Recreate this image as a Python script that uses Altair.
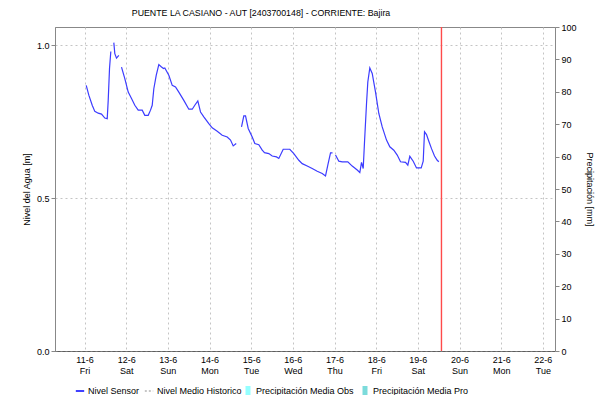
import altair as alt
import pandas as pd
from datetime import datetime, timedelta

TITLE = "PUENTE LA CASIANO - AUT [2403700148] - CORRIENTE: Bajira"

# Hours after 11-6 00:00 and water level (m), per continuous segment of the sensor line
seg1_h = [0.98, 2.48, 4.44, 5.93, 7.89, 9.79, 11.69, 13.08, 13.65, 14.4, 15.15]
seg1_v = [0.869, 0.837, 0.804, 0.784, 0.778, 0.775, 0.762, 0.760, 0.820, 0.924, 0.980]

seg2_h = [16.88, 17.45, 18.43, 19.76]
seg2_v = [1.009, 0.973, 0.958, 0.967]

seg3_h = [21.31, 23.21, 25.17, 27.07, 28.97, 30.93, 33.24, 34.73, 36.69, 38.02,
          39.0, 39.92, 41.3, 42.8, 44.35, 45.5, 46.25, 48.56, 50.52, 52.42,
          54.32, 57.2, 60.08, 62.04, 63.53, 65.26, 66.82, 68.72, 71.6, 73.56,
          76.44, 79.32, 82.2, 84.1, 85.65, 87.38]
seg3_v = [0.929, 0.891, 0.847, 0.826, 0.804, 0.788, 0.788, 0.771, 0.771, 0.788,
          0.804, 0.858, 0.902, 0.937, 0.929, 0.924, 0.926, 0.902, 0.869, 0.864,
          0.847, 0.820, 0.791, 0.791, 0.804, 0.818, 0.782, 0.766, 0.744, 0.730,
          0.719, 0.706, 0.700, 0.690, 0.671, 0.679]

seg4_h = [90.43, 91.76, 92.74, 94.29, 96.6, 98.1, 100.4, 102.36, 103.68, 106.16,
          108.12, 110.6, 111.92, 114.45, 118.25, 120.56, 123.44, 125.4, 128.28, 131.16,
          134.04, 136.92, 138.82, 140.14, 141.7, 142.85]
seg4_v = [0.733, 0.769, 0.769, 0.728, 0.700, 0.679, 0.675, 0.657, 0.649, 0.646,
          0.638, 0.635, 0.630, 0.660, 0.660, 0.646, 0.624, 0.613, 0.605, 0.597,
          0.588, 0.581, 0.573, 0.608, 0.648, 0.648]

seg5_h = [144.58, 146.48, 148.44, 151.66, 154.2, 157.08, 158.57, 159.55, 160.53, 161.28,
          162.43, 163.18, 164.33, 165.72, 167.62, 169.52, 171.48, 173.95, 175.85, 178.16,
          180.12, 182.02, 184.9, 186.22, 187.37, 189.33, 191.23, 193.94, 195.09, 195.84,
          196.99, 198.32, 199.87, 201.6, 203.16, 204.08]
seg5_v = [0.641, 0.621, 0.619, 0.619, 0.605, 0.592, 0.584, 0.617, 0.597, 0.684,
          0.809, 0.880, 0.926, 0.908, 0.847, 0.777, 0.733, 0.690, 0.668, 0.657,
          0.641, 0.619, 0.617, 0.608, 0.637, 0.621, 0.599, 0.599, 0.621, 0.717,
          0.708, 0.686, 0.662, 0.638, 0.624, 0.619]

NOW = "2021-06-19T13:36:00"
LEGEND_T = "2021-06-15T00:00:00"

line_names = ["Nivel Sensor", "Nivel Medio Historico"]
line_colors = ["#0000ff", "#b4b4b4"]
line_dashes = [[1, 0], [2, 2]]
bar_names = ["Precipitación Media Obs", "Precipitación Media Pro"]
bar_colors = ["#66ffff", "#44cccc"]
RECT = "M-0.5,-1L0.5,-1L0.5,1L-0.5,1Z"

FONT = "Liberation Sans"

base = datetime(2021, 6, 11)
rows = []
for sid, (hs, vs) in enumerate([(seg1_h, seg1_v), (seg2_h, seg2_v), (seg3_h, seg3_v),
                                (seg4_h, seg4_v), (seg5_h, seg5_v)]):
    for h, v in zip(hs, vs):
        rows.append({"t": (base + timedelta(hours=h)).strftime("%Y-%m-%dT%H:%M:%S"),
                     "v": v, "seg": sid})
df = pd.DataFrame(rows)

x_dom = [alt.DateTime(year=2021, month=6, date=10, hours=7),
         alt.DateTime(year=2021, month=6, date=22, hours=7)]
x_ticks = [alt.DateTime(year=2021, month=6, date=d) for d in range(11, 23)]

x_axis = alt.Axis(values=x_ticks, title=None, ticks=False, grid=True,
                  gridDash=[2, 3], gridColor="#c4c4c4",
                  domainDash=[1, 1], domainColor="#333333",
                  labelExpr="[timeFormat(datum.value, '%-d-%-m'), timeFormat(datum.value, '%a')]",
                  labelPadding=4, labelLineHeight=11, labelFontSize=9)

line = alt.Chart(df).mark_line(color="#3c3cff", strokeWidth=1.2).encode(
    x=alt.X("t:T", scale=alt.Scale(domain=x_dom), axis=x_axis),
    y=alt.Y("v:Q", scale=alt.Scale(domain=[0, 1.06], nice=False, zero=False),
            axis=alt.Axis(orient="left", values=[0, 0.5, 1.0], format=".1f",
                          title="Nivel del Agua [m]", grid=True, gridDash=[2, 3],
                          gridColor="#c4c4c4", domainColor="#888888",
                          tickColor="#888888", tickSize=4, labelPadding=2,
                          titlePadding=5)),
    detail="seg:N",
)

rule = alt.Chart(pd.DataFrame({"t": [NOW]})).mark_rule(strokeWidth=1.4, color="#ff4a4a").encode(
    x="t:T",
)

# legend for the line series (no visible marks: rows filtered out)
leg_lines = alt.Chart(pd.DataFrame({"serie": line_names, "t": [LEGEND_T] * 2, "v": [0, 0]})
                      ).transform_filter("datum.v > 1000").mark_line(strokeWidth=1.5).encode(
    x="t:T",
    y=alt.Y("v:Q", axis=None),
    stroke=alt.Stroke("serie:N", scale=alt.Scale(domain=line_names, range=line_colors),
                      legend=alt.Legend(title=None, orient="none", legendX=20, legendY=359,
                                        direction="horizontal", columns=2, columnPadding=1,
                                        labelOffset=3, symbolSize=70, symbolStrokeWidth=1.5,
                                        labelFontSize=9, labelFont=FONT, padding=0)),
    strokeDash=alt.StrokeDash("serie:N", scale=alt.Scale(domain=line_names, range=line_dashes),
                              title=None),
)

# legend for the precipitation series + right axis
leg_bars = alt.Chart(pd.DataFrame({"serie": bar_names, "t": [LEGEND_T] * 2, "p": [0, 0]})
                     ).transform_filter("datum.p > 1000").mark_point(filled=True, shape=RECT).encode(
    x="t:T",
    y=alt.Y("p:Q", scale=alt.Scale(domain=[0, 100], nice=False),
            axis=alt.Axis(orient="right", values=list(range(0, 101, 10)),
                          title="Precipitación [mm]", grid=False,
                          domainColor="#888888", tickColor="#888888", tickSize=4,
                          labelPadding=2, titlePadding=8)),
    fill=alt.Fill("serie:N", scale=alt.Scale(domain=bar_names, range=bar_colors),
                  legend=alt.Legend(title=None, orient="none", legendX=188, legendY=359,
                                    direction="horizontal", columns=2, columnPadding=6,
                                    labelOffset=3, symbolSize=100, symbolType=RECT,
                                    symbolStrokeWidth=0,
                                    labelFontSize=9, labelFont=FONT, padding=0)),
)

chart = alt.layer(line, rule, leg_lines, leg_bars).resolve_scale(
    y="independent"
).properties(
    width=500,
    height=324,
    padding={"left": 47, "top": 19, "right": 45, "bottom": 44},
    autosize=alt.AutoSizeParams(type="none"),
    title=alt.TitleParams(TITLE, fontSize=8.8, font=FONT, fontWeight="normal",
                          anchor="middle", dx=-44, offset=5, color="#000000"),
).configure_view(
    stroke="#888888"
).configure_axis(
    labelFont=FONT, titleFont=FONT, labelFontSize=9, titleFontSize=9,
    titleFontWeight="normal", labelColor="#000000", titleColor="#000000"
)

chart.save("out.html", embed_options={"renderer": "svg", "actions": False})
